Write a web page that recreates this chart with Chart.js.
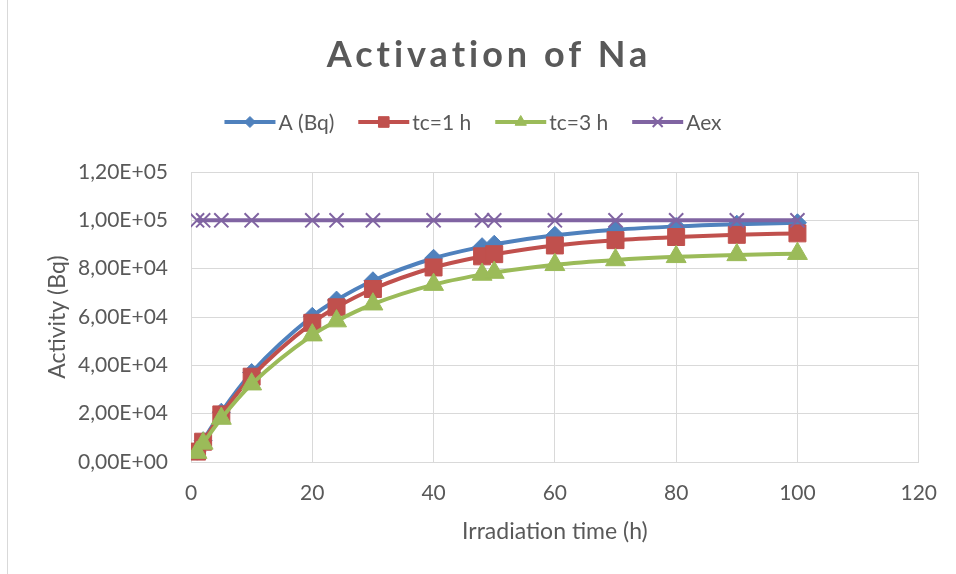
<!DOCTYPE html>
<html>
<head>
<meta charset="utf-8">
<script src="https://cdn.jsdelivr.net/npm/chart.js@4/dist/chart.umd.min.js"></script>
<style>
  html, body { margin: 0; padding: 0; background: #fff; }
  #wrap { width: 956px; height: 574px; }
</style>
</head>
<body>
<div id="wrap"><canvas id="naChart" width="956" height="574"></canvas></div>
<script>
// irradiation times (h) and activities (Bq)
const hours = [1, 2, 5, 10, 20, 24, 30, 40, 48, 50, 60, 70, 80, 90, 100];
const activityA = [4500, 8800, 20600, 37000, 60300, 67000, 75000, 84300, 89100, 90100, 93800, 96100, 97500, 98400, 99000];
const activityTc1 = [4300, 8400, 19700, 35300, 57600, 64000, 71600, 80500, 85100, 86000, 89600, 91800, 93100, 94000, 94600];
const activityTc3 = [3900, 7700, 18000, 32200, 52500, 58300, 65300, 73400, 77600, 78400, 81600, 83600, 84900, 85700, 86200];
const activityAex = [100000, 100000, 100000, 100000, 100000, 100000, 100000, 100000, 100000, 100000, 100000, 100000, 100000, 100000, 100000];

const seriesNames = ['A (Bq)', 'tc=1 h', 'tc=3 h', 'Aex'];
const chartTitle = 'Activation of Na';
const xTitle = 'Irradiation time (h)';
const yTitle = 'Activity (Bq)';

const FONT = 'Lato';
const TEXT = '#595959';
const GRID = '#d9d9d9';

function toPoints(values) {
    return hours.map((h, i) => ({ x: h, y: values[i] }));
}

// 1,20E+05 style labels
function sciLabel(v) {
    const [m, e] = Number(v).toExponential(2).split('e');
    const sign = e[0] === '-' ? '-' : '+';
    const exp = e.replace(/^[+-]/, '').padStart(2, '0');
    return m.replace('.', ',') + 'E' + sign + exp;
}

function series(label, values, color, style, radius, order) {
    return {
        label: label,
        data: toPoints(values),
        borderColor: color,
        backgroundColor: color,
        pointBackgroundColor: color,
        pointBorderColor: color,
        pointStyle: style,
        pointRadius: radius,
        pointBorderWidth: style === 'crossRot' ? 2 : 1,
        borderWidth: 4,
        cubicInterpolationMode: 'monotone',
        order: order
    };
}

// title + line/marker legend, drawn by hand to look like the original
const headerPlugin = {
    id: 'header',
    afterDraw(chart) {
        const ctx = chart.ctx;
        const { drawPoint } = Chart.helpers;
        ctx.save();

        // left frame line
        ctx.strokeStyle = GRID;
        ctx.lineWidth = 1;
        ctx.beginPath();
        ctx.moveTo(7.5, 0);
        ctx.lineTo(7.5, 574);
        ctx.stroke();

        // title
        ctx.fillStyle = TEXT;
        ctx.font = 'bold 36px ' + FONT;
        ctx.letterSpacing = '4px';
        ctx.textAlign = 'center';
        ctx.textBaseline = 'middle';
        ctx.fillText(chartTitle, 489, 55);
        ctx.letterSpacing = '0px';

        // legend
        ctx.font = '21px ' + FONT;
        ctx.textAlign = 'left';
        const lineLen = 51, gap = 3, itemGap = 24;
        const sizes = [5.5, 7.5, 6.5, 7];
        const widths = seriesNames.map(n => lineLen + gap + ctx.measureText(n).width);
        const total = widths.reduce((a, b) => a + b, 0) + itemGap * (widths.length - 1);
        let x = 473 - total / 2;
        const y = 122;
        chart.data.datasets.forEach((ds, i) => {
            ctx.strokeStyle = ds.borderColor;
            ctx.lineWidth = 4;
            ctx.beginPath();
            ctx.moveTo(x, y);
            ctx.lineTo(x + lineLen, y);
            ctx.stroke();
            ctx.fillStyle = ds.borderColor;
            ctx.lineWidth = ds.pointStyle === 'crossRot' ? 2 : 1;
            drawPoint(ctx, { pointStyle: ds.pointStyle, radius: sizes[i], rotation: 0, borderWidth: ctx.lineWidth }, x + lineLen / 2, y);
            ctx.fillStyle = TEXT;
            ctx.fillText(seriesNames[i], x + lineLen + gap, y + 1);
            x += widths[i] + itemGap;
        });
        ctx.restore();
    }
};

const chart = new Chart(document.getElementById('naChart').getContext('2d'), {
    type: 'line',
    data: {
        datasets: [
            series(seriesNames[0], activityA, '#4f81bd', 'rectRot', 9, 3),
            series(seriesNames[1], activityTc1, '#c0504d', 'rect', 12, 2),
            series(seriesNames[2], activityTc3, '#9bbb59', 'triangle', 11.5, 1),
            series(seriesNames[3], activityAex, '#8064a2', 'crossRot', 10, 0)
        ]
    },
    options: {
        responsive: false,
        animation: false,
        layout: { padding: { top: 172, right: 36, bottom: 0, left: 0 } },
        plugins: {
            legend: { display: false },
            title: { display: false },
            tooltip: { enabled: false }
        },
        scales: {
            x: {
                type: 'linear',
                min: 0,
                max: 120,
                ticks: { stepSize: 20, padding: 19, color: TEXT, font: { family: FONT, size: 21 } },
                grid: { color: GRID, lineWidth: 1, drawTicks: false },
                border: { color: GRID },
                title: { display: true, text: xTitle, color: TEXT, font: { family: FONT, size: 23 }, padding: { top: 0, bottom: 29 } },
                afterFit(scale) { scale.height = 112; }
            },
            y: {
                min: 0,
                max: 120000,
                ticks: { stepSize: 20000, padding: 23, color: TEXT, font: { family: FONT, size: 21 }, callback: v => sciLabel(v) },
                grid: { color: GRID, lineWidth: 1, drawTicks: false },
                border: { color: GRID },
                title: { display: true, text: yTitle, color: TEXT, font: { family: FONT, size: 23 }, padding: { top: 44, bottom: 0 } },
                afterFit(scale) { scale.width = 191; }
            }
        }
    },
    plugins: [headerPlugin]
});
</script>
</body>
</html>
